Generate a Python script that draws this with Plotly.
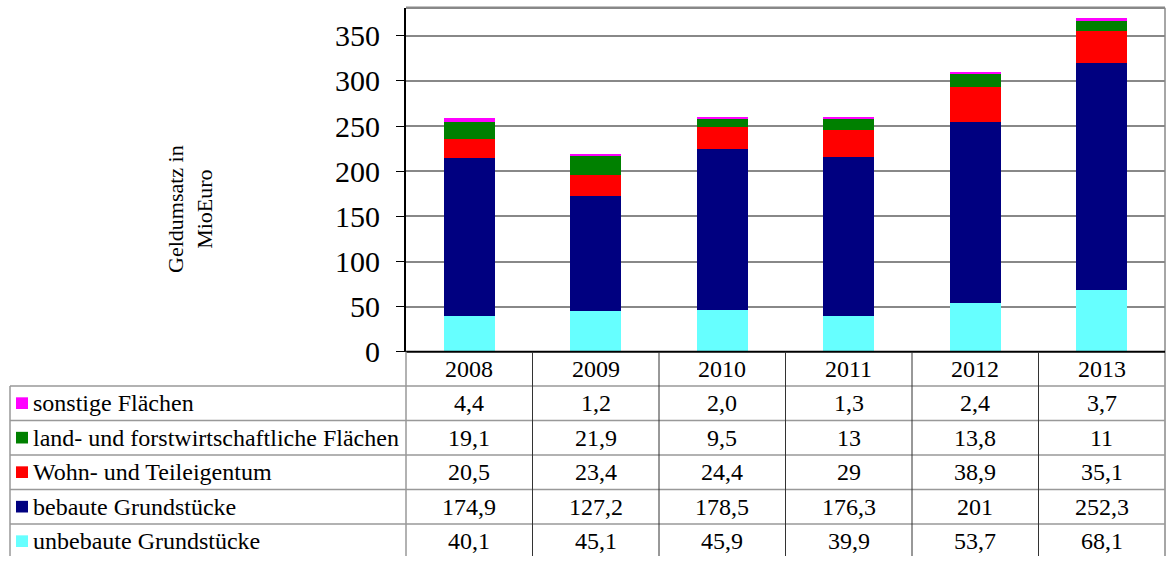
import plotly.graph_objects as go

years = ["2008", "2009", "2010", "2011", "2012", "2013"]

series_names = [
    "unbebaute Grundstücke",
    "bebaute Grundstücke",
    "Wohn- und Teileigentum",
    "land- und forstwirtschaftliche Flächen",
    "sonstige Flächen",
]
unbebaute = [40.1, 45.1, 45.9, 39.9, 53.7, 68.1]
bebaute = [174.9, 127.2, 178.5, 176.3, 201, 252.3]
wohn = [20.5, 23.4, 24.4, 29, 38.9, 35.1]
land = [19.1, 21.9, 9.5, 13, 13.8, 11]
sonstige = [4.4, 1.2, 2.0, 1.3, 2.4, 3.7]

# table labels as printed in the source
unbebaute_txt = ["40,1", "45,1", "45,9", "39,9", "53,7", "68,1"]
bebaute_txt = ["174,9", "127,2", "178,5", "176,3", "201", "252,3"]
wohn_txt = ["20,5", "23,4", "24,4", "29", "38,9", "35,1"]
land_txt = ["19,1", "21,9", "9,5", "13", "13,8", "11"]
sonstige_txt = ["4,4", "1,2", "2,0", "1,3", "2,4", "3,7"]

colors = ["#66FFFF", "#000080", "#FF0000", "#008000", "#FF00FF"]

W, H = 1166, 572
FONT = "Liberation Serif"
TXT = 24


def py(pix):
    # pixel row -> paper y
    return (H - pix) / H


def px(pix):
    return pix / W


fig = go.Figure()
values = [unbebaute, bebaute, wohn, land, sonstige]
for name, vals, col in zip(series_names, values, colors):
    fig.add_trace(go.Bar(x=years, y=vals, name=name, marker_color=col,
                         marker_line_width=0, width=0.4))

x0, x1 = 406, 1165
y_axis_bottom, y_axis_top = 362, 8
fig.update_layout(
    width=W, height=H, autosize=False, barmode="stack", showlegend=False,
    margin=dict(l=0, r=0, t=0, b=0),
    plot_bgcolor="white", paper_bgcolor="white",
    font=dict(family=FONT, color="black"),
    xaxis=dict(type="category", domain=[px(x0), px(x1)], range=[-0.5, 5.5],
               showticklabels=False, showgrid=False, zeroline=False,
               showline=False, fixedrange=True),
    yaxis=dict(domain=[py(y_axis_bottom), py(y_axis_top)], range=[0, 381],
               tickvals=[0, 50, 100, 150, 200, 250, 300, 350],
               ticks="outside", ticklen=8, tickcolor="black",
               ticklabelstandoff=10,
               tickfont=dict(size=30, family=FONT),
               showgrid=True, gridcolor="#888888", gridwidth=1.5,
               zeroline=False, showline=True, linecolor="black",
               linewidth=2, fixedrange=True),
)

# frame top and right of plot area
fig.add_shape(type="line", xref="paper", yref="paper", x0=px(x0), x1=px(x1),
              y0=py(y_axis_top), y1=py(y_axis_top),
              line=dict(color="#888888", width=2.5))
fig.add_shape(type="line", xref="paper", yref="paper", x0=px(x1), x1=px(x1),
              y0=py(y_axis_top), y1=py(H),
              line=dict(color="#888888", width=1.5))

# y axis title
fig.add_annotation(text="Geldumsatz in<br>MioEuro", xref="paper", yref="paper",
                   x=px(190), y=py(215), xanchor="center", yanchor="middle",
                   textangle=-90, showarrow=False,
                   font=dict(size=22, family=FONT))

# data table
row_h = 35.5
header_top = y_axis_bottom
rows_top = header_top + 35
table_left = 10
col_w = (x1 - x0) / len(years)

# x axis (top of header row)
fig.add_shape(type="line", xref="paper", yref="paper", x0=px(x0), x1=px(x1),
              y0=py(header_top), y1=py(header_top),
              line=dict(color="black", width=2))

# horizontal lines of rows
for i in range(5):
    yy = rows_top + i * row_h
    fig.add_shape(type="line", xref="paper", yref="paper",
                  x0=px(table_left), x1=px(x1), y0=py(yy), y1=py(yy),
                  line=dict(color="#999999", width=1.5))

# vertical lines
fig.add_shape(type="line", xref="paper", yref="paper", x0=px(table_left),
              x1=px(table_left), y0=py(rows_top), y1=0,
              line=dict(color="#999999", width=1.5))
fig.add_shape(type="line", xref="paper", yref="paper", x0=px(x0), x1=px(x0),
              y0=py(header_top), y1=0, line=dict(color="#999999", width=1.5))
for i in range(1, len(years)):
    xx = x0 + i * col_w
    fig.add_shape(type="line", xref="paper", yref="paper", x0=px(xx),
                  x1=px(xx), y0=py(header_top), y1=0,
                  line=dict(color="#333333", width=1))

# header years
for i, yr in enumerate(years):
    fig.add_annotation(text=yr, xref="x", yref="paper", x=i,
                       y=py(header_top + 18), xanchor="center",
                       yanchor="middle", showarrow=False,
                       font=dict(size=TXT, family=FONT))

# rows, top to bottom
table_rows = [
    (series_names[4], colors[4], sonstige_txt),
    (series_names[3], colors[3], land_txt),
    (series_names[2], colors[2], wohn_txt),
    (series_names[1], colors[1], bebaute_txt),
    (series_names[0], colors[0], unbebaute_txt),
]
for r, (name, col, txt) in enumerate(table_rows):
    yc = rows_top + r * row_h + row_h / 2
    fig.add_shape(type="rect", xref="paper", yref="paper",
                  x0=px(16), x1=px(28), y0=py(yc + 6), y1=py(yc - 6),
                  fillcolor=col, line=dict(width=0))
    fig.add_annotation(text=name, xref="paper", yref="paper", x=px(31),
                       y=py(yc), xanchor="left", yanchor="middle",
                       showarrow=False, font=dict(size=TXT, family=FONT))
    for i, t in enumerate(txt):
        fig.add_annotation(text=t, xref="x", yref="paper", x=i, y=py(yc),
                           xanchor="center", yanchor="middle",
                           showarrow=False, font=dict(size=TXT, family=FONT))

page_css = ("document.documentElement.style.overflow='hidden';"
            "document.body.style.margin='0';"
            "document.body.style.overflow='hidden';")
fig.write_html("out.html",
               config={"displayModeBar": False, "responsive": False},
               post_script=page_css)
